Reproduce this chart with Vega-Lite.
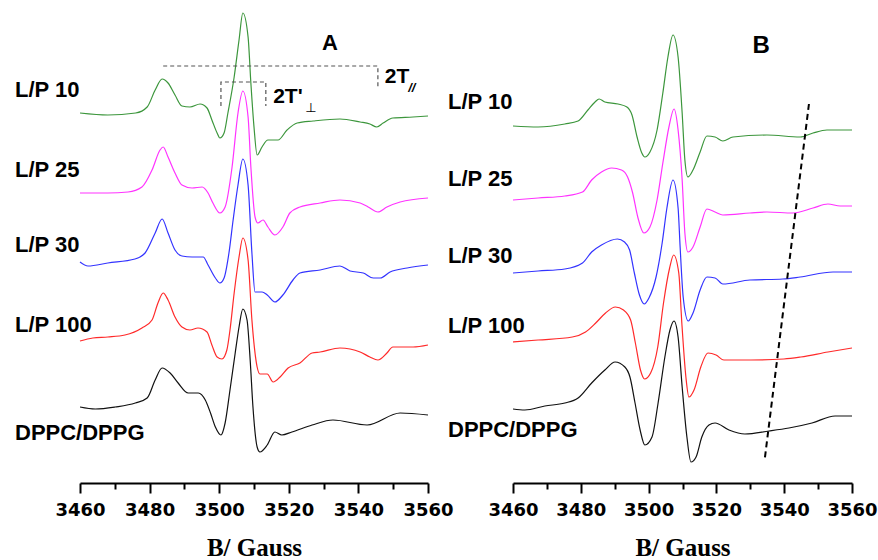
{
  "$schema": "https://vega.github.io/schema/vega-lite/v6.json",
  "background": "white",
  "padding": {"left": 15, "top": 10, "right": 0, "bottom": 0},
  "spacing": 85,
  "bounds": "flush",
  "config": {
    "view": {"stroke": null},
    "axis": {
      "grid": false,
      "domainColor": "black",
      "domainWidth": 2,
      "tickColor": "black",
      "tickWidth": 2,
      "labelFont": "DejaVu Sans",
      "labelFontWeight": "bold",
      "labelFontSize": 18,
      "labelColor": "black",
      "labelPadding": 8,
      "labelFlush": false,
      "labelOverlap": false,
      "titleFont": "Liberation Serif",
      "titleFontWeight": "bold",
      "titleFontSize": 25,
      "titleColor": "black",
      "titlePadding": 16
    }
  },
  "datasets": {
    "A": [
      {"s":"L/P 10","B":3460,"y":370},{"s":"L/P 10","B":3468,"y":368},{"s":"L/P 10","B":3476,"y":370},{"s":"L/P 10","B":3479.3,"y":376},{"s":"L/P 10","B":3481.6,"y":393},{"s":"L/P 10","B":3483.6,"y":404},{"s":"L/P 10","B":3485.3,"y":400},{"s":"L/P 10","B":3487.3,"y":388},{"s":"L/P 10","B":3489.3,"y":377},{"s":"L/P 10","B":3491.6,"y":376},{"s":"L/P 10","B":3494.5,"y":379},{"s":"L/P 10","B":3496.5,"y":375},{"s":"L/P 10","B":3497.9,"y":363},{"s":"L/P 10","B":3499.4,"y":350},{"s":"L/P 10","B":3500.2,"y":345},{"s":"L/P 10","B":3501.4,"y":350},{"s":"L/P 10","B":3502.5,"y":370},{"s":"L/P 10","B":3504.3,"y":406},{"s":"L/P 10","B":3505.7,"y":443},{"s":"L/P 10","B":3506.8,"y":470},{"s":"L/P 10","B":3508.3,"y":446},{"s":"L/P 10","B":3509.1,"y":400},{"s":"L/P 10","B":3510,"y":356},{"s":"L/P 10","B":3510.9,"y":328},{"s":"L/P 10","B":3512.3,"y":336},{"s":"L/P 10","B":3514,"y":343},{"s":"L/P 10","B":3516.9,"y":343},{"s":"L/P 10","B":3519.5,"y":353},{"s":"L/P 10","B":3522.4,"y":360},{"s":"L/P 10","B":3527,"y":362},{"s":"L/P 10","B":3534.7,"y":364},{"s":"L/P 10","B":3540.5,"y":361},{"s":"L/P 10","B":3543.3,"y":359},{"s":"L/P 10","B":3545.3,"y":356},{"s":"L/P 10","B":3547.1,"y":360},{"s":"L/P 10","B":3549.9,"y":365},{"s":"L/P 10","B":3555.7,"y":366},{"s":"L/P 10","B":3560,"y":367},
      {"s":"L/P 25","B":3460,"y":290},{"s":"L/P 25","B":3468,"y":290},{"s":"L/P 25","B":3473.8,"y":291},{"s":"L/P 25","B":3477.8,"y":296},{"s":"L/P 25","B":3480.7,"y":313},{"s":"L/P 25","B":3483,"y":333},{"s":"L/P 25","B":3483.9,"y":336},{"s":"L/P 25","B":3485.3,"y":326},{"s":"L/P 25","B":3487.3,"y":310},{"s":"L/P 25","B":3489.3,"y":298},{"s":"L/P 25","B":3492.2,"y":295},{"s":"L/P 25","B":3495.1,"y":296},{"s":"L/P 25","B":3496.8,"y":290},{"s":"L/P 25","B":3498.2,"y":280},{"s":"L/P 25","B":3500.2,"y":270},{"s":"L/P 25","B":3501.7,"y":276},{"s":"L/P 25","B":3503.7,"y":316},{"s":"L/P 25","B":3505.4,"y":370},{"s":"L/P 25","B":3506.8,"y":392},{"s":"L/P 25","B":3508.3,"y":366},{"s":"L/P 25","B":3509.1,"y":316},{"s":"L/P 25","B":3510.3,"y":266},{"s":"L/P 25","B":3511.1,"y":260},{"s":"L/P 25","B":3512.6,"y":263},{"s":"L/P 25","B":3514,"y":256},{"s":"L/P 25","B":3516,"y":248},{"s":"L/P 25","B":3518.3,"y":256},{"s":"L/P 25","B":3520.3,"y":270},{"s":"L/P 25","B":3523.2,"y":276},{"s":"L/P 25","B":3529,"y":280},{"s":"L/P 25","B":3534.7,"y":283},{"s":"L/P 25","B":3540.5,"y":280},{"s":"L/P 25","B":3542.8,"y":276},{"s":"L/P 25","B":3545.6,"y":271},{"s":"L/P 25","B":3548.2,"y":276},{"s":"L/P 25","B":3552,"y":281},{"s":"L/P 25","B":3560,"y":285},
      {"s":"L/P 30","B":3460,"y":221},{"s":"L/P 30","B":3462.3,"y":217},{"s":"L/P 30","B":3468,"y":220},{"s":"L/P 30","B":3475.8,"y":224},{"s":"L/P 30","B":3478.7,"y":230},{"s":"L/P 30","B":3481.6,"y":250},{"s":"L/P 30","B":3483.6,"y":264},{"s":"L/P 30","B":3485.3,"y":250},{"s":"L/P 30","B":3487.3,"y":233},{"s":"L/P 30","B":3489.3,"y":227},{"s":"L/P 30","B":3492.2,"y":226},{"s":"L/P 30","B":3495.4,"y":226},{"s":"L/P 30","B":3496.8,"y":218},{"s":"L/P 30","B":3498.9,"y":205},{"s":"L/P 30","B":3500.2,"y":200},{"s":"L/P 30","B":3501.4,"y":205},{"s":"L/P 30","B":3502.8,"y":230},{"s":"L/P 30","B":3504,"y":263},{"s":"L/P 30","B":3505.4,"y":298},{"s":"L/P 30","B":3506.8,"y":324},{"s":"L/P 30","B":3508.3,"y":298},{"s":"L/P 30","B":3509.4,"y":230},{"s":"L/P 30","B":3510.3,"y":191},{"s":"L/P 30","B":3512.3,"y":191},{"s":"L/P 30","B":3513.8,"y":188},{"s":"L/P 30","B":3516,"y":181},{"s":"L/P 30","B":3518.3,"y":188},{"s":"L/P 30","B":3521.2,"y":203},{"s":"L/P 30","B":3523.2,"y":210},{"s":"L/P 30","B":3529,"y":213},{"s":"L/P 30","B":3534.7,"y":217},{"s":"L/P 30","B":3537.6,"y":212},{"s":"L/P 30","B":3541.4,"y":210},{"s":"L/P 30","B":3544.3,"y":205},{"s":"L/P 30","B":3546.3,"y":205},{"s":"L/P 30","B":3549.1,"y":211},{"s":"L/P 30","B":3554,"y":215},{"s":"L/P 30","B":3560,"y":218},
      {"s":"L/P 100","B":3460,"y":142},{"s":"L/P 100","B":3463.7,"y":145},{"s":"L/P 100","B":3468,"y":146},{"s":"L/P 100","B":3472.9,"y":148},{"s":"L/P 100","B":3477.8,"y":155},{"s":"L/P 100","B":3480.7,"y":163},{"s":"L/P 100","B":3482.4,"y":180},{"s":"L/P 100","B":3483.9,"y":190},{"s":"L/P 100","B":3485.3,"y":183},{"s":"L/P 100","B":3487.3,"y":166},{"s":"L/P 100","B":3489.3,"y":156},{"s":"L/P 100","B":3491.6,"y":153},{"s":"L/P 100","B":3493.9,"y":155},{"s":"L/P 100","B":3496.5,"y":151},{"s":"L/P 100","B":3497.9,"y":138},{"s":"L/P 100","B":3499.4,"y":126},{"s":"L/P 100","B":3500.8,"y":124},{"s":"L/P 100","B":3502.2,"y":133},{"s":"L/P 100","B":3503.1,"y":153},{"s":"L/P 100","B":3504.3,"y":190},{"s":"L/P 100","B":3505.7,"y":226},{"s":"L/P 100","B":3506.8,"y":245},{"s":"L/P 100","B":3508.3,"y":223},{"s":"L/P 100","B":3509.4,"y":163},{"s":"L/P 100","B":3510.9,"y":116},{"s":"L/P 100","B":3511.7,"y":109},{"s":"L/P 100","B":3513.8,"y":109},{"s":"L/P 100","B":3515.5,"y":101},{"s":"L/P 100","B":3517.5,"y":106},{"s":"L/P 100","B":3519.8,"y":115},{"s":"L/P 100","B":3523.2,"y":120},{"s":"L/P 100","B":3526.7,"y":130},{"s":"L/P 100","B":3529,"y":131},{"s":"L/P 100","B":3534.7,"y":135},{"s":"L/P 100","B":3540.5,"y":131},{"s":"L/P 100","B":3543.3,"y":126},{"s":"L/P 100","B":3545.6,"y":123},{"s":"L/P 100","B":3548.2,"y":130},{"s":"L/P 100","B":3549.9,"y":136},{"s":"L/P 100","B":3555.7,"y":136},{"s":"L/P 100","B":3560,"y":138},
      {"s":"DPPC/DPPG","B":3460,"y":76},{"s":"DPPC/DPPG","B":3464.4,"y":74},{"s":"DPPC/DPPG","B":3470.1,"y":76},{"s":"DPPC/DPPG","B":3475.9,"y":80},{"s":"DPPC/DPPG","B":3479.3,"y":85},{"s":"DPPC/DPPG","B":3481.6,"y":103},{"s":"DPPC/DPPG","B":3483.6,"y":115},{"s":"DPPC/DPPG","B":3485.9,"y":110},{"s":"DPPC/DPPG","B":3488.2,"y":100},{"s":"DPPC/DPPG","B":3491.1,"y":90},{"s":"DPPC/DPPG","B":3494,"y":90},{"s":"DPPC/DPPG","B":3496,"y":83},{"s":"DPPC/DPPG","B":3497.5,"y":70},{"s":"DPPC/DPPG","B":3498.9,"y":56},{"s":"DPPC/DPPG","B":3500.5,"y":48},{"s":"DPPC/DPPG","B":3501.7,"y":60},{"s":"DPPC/DPPG","B":3503.1,"y":93},{"s":"DPPC/DPPG","B":3504.6,"y":130},{"s":"DPPC/DPPG","B":3505.7,"y":156},{"s":"DPPC/DPPG","B":3506.8,"y":174},{"s":"DPPC/DPPG","B":3508,"y":163},{"s":"DPPC/DPPG","B":3508.9,"y":123},{"s":"DPPC/DPPG","B":3509.7,"y":76},{"s":"DPPC/DPPG","B":3510.9,"y":36},{"s":"DPPC/DPPG","B":3511.7,"y":31},{"s":"DPPC/DPPG","B":3513.8,"y":38},{"s":"DPPC/DPPG","B":3516,"y":51},{"s":"DPPC/DPPG","B":3518,"y":48},{"s":"DPPC/DPPG","B":3520.9,"y":51},{"s":"DPPC/DPPG","B":3526.7,"y":58},{"s":"DPPC/DPPG","B":3532.7,"y":63},{"s":"DPPC/DPPG","B":3542.5,"y":58},{"s":"DPPC/DPPG","B":3552,"y":70},{"s":"DPPC/DPPG","B":3560,"y":68}
    ],
    "B": [
      {"s":"L/P 10","B":3460,"y":357},{"s":"L/P 10","B":3467.4,"y":356},{"s":"L/P 10","B":3475.3,"y":359},{"s":"L/P 10","B":3479.2,"y":362},{"s":"L/P 10","B":3482.1,"y":373},{"s":"L/P 10","B":3484.2,"y":381},{"s":"L/P 10","B":3485.4,"y":384},{"s":"L/P 10","B":3487.1,"y":381},{"s":"L/P 10","B":3491,"y":379},{"s":"L/P 10","B":3493.6,"y":376},{"s":"L/P 10","B":3495.1,"y":368},{"s":"L/P 10","B":3496.6,"y":346},{"s":"L/P 10","B":3498,"y":330},{"s":"L/P 10","B":3498.9,"y":326},{"s":"L/P 10","B":3500.4,"y":331},{"s":"L/P 10","B":3502.5,"y":353},{"s":"L/P 10","B":3504.2,"y":390},{"s":"L/P 10","B":3505.7,"y":426},{"s":"L/P 10","B":3507.2,"y":448},{"s":"L/P 10","B":3508.7,"y":426},{"s":"L/P 10","B":3509.9,"y":370},{"s":"L/P 10","B":3510.7,"y":323},{"s":"L/P 10","B":3511.6,"y":306},{"s":"L/P 10","B":3513.1,"y":313},{"s":"L/P 10","B":3515.2,"y":331},{"s":"L/P 10","B":3517.2,"y":347},{"s":"L/P 10","B":3519.6,"y":346},{"s":"L/P 10","B":3521.9,"y":342},{"s":"L/P 10","B":3524.9,"y":346},{"s":"L/P 10","B":3534.9,"y":348},{"s":"L/P 10","B":3544.7,"y":346},{"s":"L/P 10","B":3548.5,"y":350},{"s":"L/P 10","B":3552.6,"y":353},{"s":"L/P 10","B":3560,"y":353},
      {"s":"L/P 25","B":3460,"y":283},{"s":"L/P 25","B":3467.4,"y":285},{"s":"L/P 25","B":3475.3,"y":287},{"s":"L/P 25","B":3480.5,"y":291},{"s":"L/P 25","B":3483.2,"y":303},{"s":"L/P 25","B":3486.1,"y":311},{"s":"L/P 25","B":3489.1,"y":315},{"s":"L/P 25","B":3492,"y":313},{"s":"L/P 25","B":3493.8,"y":306},{"s":"L/P 25","B":3495.3,"y":290},{"s":"L/P 25","B":3496.8,"y":266},{"s":"L/P 25","B":3498.6,"y":250},{"s":"L/P 25","B":3500.4,"y":256},{"s":"L/P 25","B":3502.5,"y":283},{"s":"L/P 25","B":3504.2,"y":320},{"s":"L/P 25","B":3506,"y":356},{"s":"L/P 25","B":3507.5,"y":374},{"s":"L/P 25","B":3508.7,"y":353},{"s":"L/P 25","B":3509.9,"y":303},{"s":"L/P 25","B":3510.7,"y":250},{"s":"L/P 25","B":3511.6,"y":231},{"s":"L/P 25","B":3513.1,"y":236},{"s":"L/P 25","B":3515.2,"y":256},{"s":"L/P 25","B":3517.2,"y":274},{"s":"L/P 25","B":3519.6,"y":271},{"s":"L/P 25","B":3521.9,"y":268},{"s":"L/P 25","B":3529.9,"y":270},{"s":"L/P 25","B":3534.9,"y":271},{"s":"L/P 25","B":3542.6,"y":270},{"s":"L/P 25","B":3548.5,"y":275},{"s":"L/P 25","B":3552.9,"y":279},{"s":"L/P 25","B":3556.5,"y":277},{"s":"L/P 25","B":3560,"y":277},
      {"s":"L/P 30","B":3460,"y":210},{"s":"L/P 30","B":3467.4,"y":212},{"s":"L/P 30","B":3475.3,"y":214},{"s":"L/P 30","B":3480.5,"y":220},{"s":"L/P 30","B":3483.2,"y":231},{"s":"L/P 30","B":3486.1,"y":238},{"s":"L/P 30","B":3490.8,"y":244},{"s":"L/P 30","B":3492.9,"y":241},{"s":"L/P 30","B":3494.4,"y":233},{"s":"L/P 30","B":3495.8,"y":210},{"s":"L/P 30","B":3497.3,"y":188},{"s":"L/P 30","B":3498.7,"y":179},{"s":"L/P 30","B":3500.1,"y":185},{"s":"L/P 30","B":3502.2,"y":206},{"s":"L/P 30","B":3504,"y":240},{"s":"L/P 30","B":3505.4,"y":275},{"s":"L/P 30","B":3507.2,"y":303},{"s":"L/P 30","B":3508.7,"y":275},{"s":"L/P 30","B":3509.3,"y":236},{"s":"L/P 30","B":3510.2,"y":186},{"s":"L/P 30","B":3511.7,"y":162},{"s":"L/P 30","B":3513.1,"y":170},{"s":"L/P 30","B":3515.2,"y":193},{"s":"L/P 30","B":3517.2,"y":206},{"s":"L/P 30","B":3519.6,"y":205},{"s":"L/P 30","B":3521.9,"y":199},{"s":"L/P 30","B":3529.9,"y":203},{"s":"L/P 30","B":3539.6,"y":204},{"s":"L/P 30","B":3544.7,"y":206},{"s":"L/P 30","B":3554.4,"y":211},{"s":"L/P 30","B":3560,"y":211},
      {"s":"L/P 100","B":3460,"y":141},{"s":"L/P 100","B":3467.4,"y":143},{"s":"L/P 100","B":3477.5,"y":146},{"s":"L/P 100","B":3481.4,"y":151},{"s":"L/P 100","B":3484.4,"y":160},{"s":"L/P 100","B":3487.3,"y":170},{"s":"L/P 100","B":3490.2,"y":176},{"s":"L/P 100","B":3492.6,"y":173},{"s":"L/P 100","B":3494.7,"y":163},{"s":"L/P 100","B":3496.1,"y":140},{"s":"L/P 100","B":3497.6,"y":113},{"s":"L/P 100","B":3498.8,"y":104},{"s":"L/P 100","B":3500.6,"y":110},{"s":"L/P 100","B":3502.7,"y":136},{"s":"L/P 100","B":3504.4,"y":180},{"s":"L/P 100","B":3506.2,"y":215},{"s":"L/P 100","B":3507.4,"y":228},{"s":"L/P 100","B":3508.9,"y":210},{"s":"L/P 100","B":3509.8,"y":160},{"s":"L/P 100","B":3511,"y":106},{"s":"L/P 100","B":3511.9,"y":86},{"s":"L/P 100","B":3513.4,"y":93},{"s":"L/P 100","B":3515.4,"y":116},{"s":"L/P 100","B":3517.5,"y":130},{"s":"L/P 100","B":3519.9,"y":128},{"s":"L/P 100","B":3522.2,"y":123},{"s":"L/P 100","B":3530.2,"y":123},{"s":"L/P 100","B":3539.9,"y":124},{"s":"L/P 100","B":3544.9,"y":126},{"s":"L/P 100","B":3552.9,"y":131},{"s":"L/P 100","B":3560,"y":135},
      {"s":"DPPC/DPPG","B":3460,"y":74},{"s":"DPPC/DPPG","B":3463.5,"y":73},{"s":"DPPC/DPPG","B":3469.4,"y":77},{"s":"DPPC/DPPG","B":3475.3,"y":80},{"s":"DPPC/DPPG","B":3479.2,"y":85},{"s":"DPPC/DPPG","B":3483.2,"y":100},{"s":"DPPC/DPPG","B":3487.1,"y":113},{"s":"DPPC/DPPG","B":3490.1,"y":121},{"s":"DPPC/DPPG","B":3493,"y":116},{"s":"DPPC/DPPG","B":3494.5,"y":106},{"s":"DPPC/DPPG","B":3496,"y":80},{"s":"DPPC/DPPG","B":3497.5,"y":53},{"s":"DPPC/DPPG","B":3498.9,"y":38},{"s":"DPPC/DPPG","B":3501,"y":46},{"s":"DPPC/DPPG","B":3502.8,"y":80},{"s":"DPPC/DPPG","B":3504.8,"y":126},{"s":"DPPC/DPPG","B":3506.3,"y":153},{"s":"DPPC/DPPG","B":3507.5,"y":162},{"s":"DPPC/DPPG","B":3508.7,"y":146},{"s":"DPPC/DPPG","B":3509.9,"y":96},{"s":"DPPC/DPPG","B":3511.3,"y":46},{"s":"DPPC/DPPG","B":3512.5,"y":21},{"s":"DPPC/DPPG","B":3514,"y":26},{"s":"DPPC/DPPG","B":3515.7,"y":46},{"s":"DPPC/DPPG","B":3517.8,"y":58},{"s":"DPPC/DPPG","B":3519.6,"y":60},{"s":"DPPC/DPPG","B":3523.7,"y":53},{"s":"DPPC/DPPG","B":3528.4,"y":49},{"s":"DPPC/DPPG","B":3535.5,"y":52},{"s":"DPPC/DPPG","B":3541.4,"y":55},{"s":"DPPC/DPPG","B":3548.2,"y":60},{"s":"DPPC/DPPG","B":3555,"y":67},{"s":"DPPC/DPPG","B":3560,"y":67}
    ],
    "labA": [
      {"t":"L/P 10","B":3460,"y":393},{"t":"L/P 25","B":3460,"y":313},{"t":"L/P 30","B":3460,"y":238},{"t":"L/P 100","B":3460,"y":158},{"t":"DPPC/DPPG","B":3460,"y":50}
    ],
    "labB": [
      {"t":"L/P 10","B":3460,"y":381},{"t":"L/P 25","B":3460,"y":304},{"t":"L/P 30","B":3460,"y":227},{"t":"L/P 100","B":3460,"y":157},{"t":"DPPC/DPPG","B":3460,"y":53}
    ],
    "bracketsA": [
      {"g":"par","o":1,"B":3483.9,"y":417},{"g":"par","o":2,"B":3545.6,"y":417},{"g":"par","o":3,"B":3545.6,"y":395},
      {"g":"perp","o":1,"B":3500.5,"y":377},{"g":"perp","o":2,"B":3500.5,"y":401},{"g":"perp","o":3,"B":3513.4,"y":401},{"g":"perp","o":4,"B":3513.4,"y":377}
    ],
    "bigA": [{"t":"2T","B":3547.6,"y":400},{"t":"2T'","B":3515.5,"y":380}],
    "subParA": [{"t":"//","B":3554.3,"y":391}],
    "subPerpA": [{"t":"⊥","B":3524.7,"y":371}],
    "panelA": [{"t":"A","B":3531.8,"y":433}],
    "panelB": [{"t":"B","B":3533.2,"y":430}],
    "slopeB": [{"o":1,"B":3547.3,"y":379},{"o":2,"B":3534.3,"y":25}]
  },
  "hconcat": [
    {
      "width": 348,
      "height": 473,
      "encoding": {
        "x": {"field": "B", "type": "quantitative",
          "scale": {"domain": [3460, 3560], "nice": false, "zero": false},
          "axis": {"values": [3460,3470,3480,3490,3500,3510,3520,3530,3540,3550,3560], "format": "d",
            "labelExpr": "datum.value % 20 === 0 ? datum.label : ''",
            "tickSize": {"condition": {"test": "datum.value % 20 === 0", "value": 10}, "value": 6},
            "title": "B/ Gauss"}},
        "y": {"field": "y", "type": "quantitative", "scale": {"domain": [0, 473], "nice": false, "zero": false}, "axis": null}
      },
      "layer": [
        {"data": {"name": "A"}, "mark": {"type": "line", "strokeWidth": 1.2, "interpolate": "monotone"},
          "encoding": {"color": {"field": "s", "type": "nominal", "legend": null,
            "scale": {"domain": ["L/P 10","L/P 25","L/P 30","L/P 100","DPPC/DPPG"], "range": ["#3c963c","#ff33ff","#3333ff","#ff2a2a","#111111"]}}}},
        {"data": {"name": "bracketsA"}, "mark": {"type": "line", "color": "#555555", "strokeWidth": 1.2, "strokeDash": [4, 3]},
          "encoding": {"detail": {"field": "g"}, "order": {"field": "o", "type": "quantitative"}}},
        {"data": {"name": "labA"}, "mark": {"type": "text", "align": "left", "baseline": "middle", "dx": -65, "font": "Liberation Sans", "fontWeight": "bold", "fontSize": 22, "color": "black"},
          "encoding": {"text": {"field": "t"}}},
        {"data": {"name": "bigA"}, "mark": {"type": "text", "align": "left", "baseline": "alphabetic", "font": "Liberation Sans", "fontWeight": "bold", "fontSize": 21, "color": "black"},
          "encoding": {"text": {"field": "t"}}},
        {"data": {"name": "subParA"}, "mark": {"type": "text", "align": "left", "baseline": "alphabetic", "font": "Liberation Sans", "fontWeight": "bold", "fontStyle": "italic", "fontSize": 13, "color": "black"},
          "encoding": {"text": {"field": "t"}}},
        {"data": {"name": "subPerpA"}, "mark": {"type": "text", "align": "left", "baseline": "alphabetic", "font": "DejaVu Sans", "fontSize": 13, "color": "black"},
          "encoding": {"text": {"field": "t"}}},
        {"data": {"name": "panelA"}, "mark": {"type": "text", "align": "center", "baseline": "alphabetic", "font": "Liberation Sans", "fontWeight": "bold", "fontSize": 22, "color": "black"},
          "encoding": {"text": {"field": "t"}}}
      ]
    },
    {
      "width": 339,
      "height": 473,
      "encoding": {
        "x": {"field": "B", "type": "quantitative",
          "scale": {"domain": [3460, 3560], "nice": false, "zero": false},
          "axis": {"values": [3460,3470,3480,3490,3500,3510,3520,3530,3540,3550,3560], "format": "d",
            "labelExpr": "datum.value % 20 === 0 ? datum.label : ''",
            "tickSize": {"condition": {"test": "datum.value % 20 === 0", "value": 10}, "value": 6},
            "title": "B/ Gauss"}},
        "y": {"field": "y", "type": "quantitative", "scale": {"domain": [0, 473], "nice": false, "zero": false}, "axis": null}
      },
      "layer": [
        {"data": {"name": "B"}, "mark": {"type": "line", "strokeWidth": 1.2, "interpolate": "monotone"},
          "encoding": {"color": {"field": "s", "type": "nominal", "legend": null,
            "scale": {"domain": ["L/P 10","L/P 25","L/P 30","L/P 100","DPPC/DPPG"], "range": ["#3c963c","#ff33ff","#3333ff","#ff2a2a","#111111"]}}}},
        {"data": {"name": "slopeB"}, "mark": {"type": "line", "color": "black", "strokeWidth": 2, "strokeDash": [6, 4]},
          "encoding": {"order": {"field": "o", "type": "quantitative"}}},
        {"data": {"name": "labB"}, "mark": {"type": "text", "align": "left", "baseline": "middle", "dx": -65, "font": "Liberation Sans", "fontWeight": "bold", "fontSize": 22, "color": "black"},
          "encoding": {"text": {"field": "t"}}},
        {"data": {"name": "panelB"}, "mark": {"type": "text", "align": "center", "baseline": "alphabetic", "font": "Liberation Sans", "fontWeight": "bold", "fontSize": 24, "color": "black"},
          "encoding": {"text": {"field": "t"}}}
      ]
    }
  ]
}
